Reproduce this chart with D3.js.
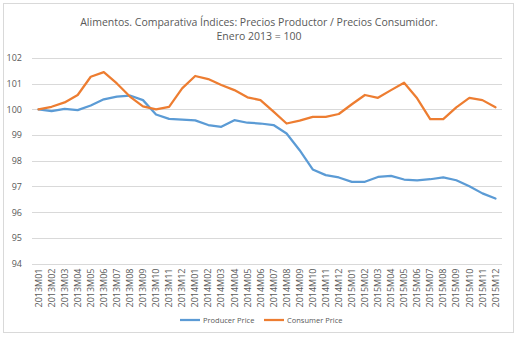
<!DOCTYPE html>
<html>
<head>
<meta charset="utf-8">
<script src="https://cdn.jsdelivr.net/npm/d3@7"></script>
<style>
  body { margin: 0; background: #fff; }
  text { font-family: "Open Sans", "Noto Sans", sans-serif; fill: #595959; }
</style>
</head>
<body>
<script>
const W = 519, H = 339;

const months = [];
['2013', '2014', '2015'].forEach(function(y) {
	['01', '02', '03', '04', '05', '06', '07', '08', '09', '10', '11', '12'].forEach(function(m) {
		months.push(y + 'M' + m);
	});
});

const producer = [100.0, 99.93, 100.02, 99.97, 100.15, 100.39, 100.5, 100.54, 100.36, 99.8, 99.63, 99.6,
	99.57, 99.39, 99.32, 99.58, 99.48, 99.45, 99.39, 99.06, 98.41, 97.66, 97.44, 97.35,
	97.18, 97.18, 97.37, 97.41, 97.27, 97.24, 97.28, 97.35, 97.24, 97.01, 96.73, 96.53];

const consumer = [100.0, 100.1, 100.27, 100.56, 101.27, 101.45, 101.01, 100.5, 100.12, 100.0, 100.1, 100.82,
	101.3, 101.18, 100.95, 100.75, 100.47, 100.36, 99.91, 99.45, 99.56, 99.71, 99.71, 99.82,
	100.2, 100.56, 100.45, 100.75, 101.04, 100.43, 99.62, 99.62, 100.08, 100.45, 100.36, 100.08];

const yTicks = [94, 95, 96, 97, 98, 99, 100, 101, 102];

const margin = { top: 58, left: 32, right: 17, bottom: 75 };
const plotW = W - margin.left - margin.right;
const plotH = 263.5 - margin.top;

const svg = d3.select('body').append('svg').attr('width', W).attr('height', H);

// chart frame
svg.append('rect')
	.attr('x', 3.5).attr('y', 3.5)
	.attr('width', 510).attr('height', 329)
	.attr('fill', '#fff').attr('stroke', '#d9d9d9');

svg.append('text')
	.attr('x', 259).attr('y', 26)
	.attr('text-anchor', 'middle')
	.style('font-size', '10.5px')
	.text('Alimentos. Comparativa Índices: Precios Productor  / Precios Consumidor.');
svg.append('text')
	.attr('x', 259).attr('y', 40)
	.attr('text-anchor', 'middle')
	.style('font-size', '10.5px')
	.text('Enero 2013 = 100');

const g = svg.append('g').attr('transform', 'translate(' + margin.left + ',' + margin.top + ')');

const x = d3.scaleBand().domain(months).range([0, plotW]);
const y = d3.scaleLinear().domain([94, 102]).range([plotH, 0]);

// gridlines
g.selectAll('.grid')
	.data(yTicks)
	.enter()
	.append('line')
	.attr('x1', 0).attr('x2', plotW)
	.attr('y1', function(d) { return Math.round(y(d)) + 0.5; })
	.attr('y2', function(d) { return Math.round(y(d)) + 0.5; })
	.attr('stroke', '#d9d9d9');

const yAxis = d3.axisLeft(y).tickValues(yTicks).tickSize(0).tickPadding(10);
g.append('g').call(yAxis)
	.call(function(s) { s.select('.domain').remove(); })
	.selectAll('text')
	.style('font-size', '9px');

const xAxis = d3.axisBottom(x).tickSize(0).tickPadding(0);
g.append('g')
	.attr('transform', 'translate(0,' + plotH + ')')
	.call(xAxis)
	.call(function(s) { s.select('.domain').remove(); })
	.selectAll('text')
	.style('font-size', '9px')
	.attr('text-anchor', 'end')
	.attr('transform', 'rotate(-90)')
	.attr('x', -5)
	.attr('y', 0)
	.attr('dy', '0.35em');

const line = function(vals) {
	return d3.line()
		.x(function(d, i) { return x(months[i]) + x.bandwidth() / 2; })
		.y(function(d) { return y(d); })(vals);
};

g.append('path').attr('d', line(producer))
	.attr('fill', 'none').attr('stroke', '#5b9bd5').attr('stroke-width', 2.25)
	.attr('stroke-linejoin', 'round').attr('stroke-linecap', 'round');
g.append('path').attr('d', line(consumer))
	.attr('fill', 'none').attr('stroke', '#ed7d31').attr('stroke-width', 2.25)
	.attr('stroke-linejoin', 'round').attr('stroke-linecap', 'round');

// legend
const legend = [
	{ name: 'Producer Price', color: '#5b9bd5', x: 180 },
	{ name: 'Consumer Price', color: '#ed7d31', x: 264 }
];
const lg = svg.selectAll('.leg').data(legend).enter().append('g')
	.attr('transform', function(d) { return 'translate(' + d.x + ',320)'; });
lg.append('line').attr('x1', 0).attr('x2', 20).attr('y1', 0).attr('y2', 0)
	.attr('stroke', function(d) { return d.color; }).attr('stroke-width', 2.25);
lg.append('text').attr('x', 23).attr('y', 0).attr('dy', '0.35em')
	.style('font-size', '7.5px')
	.text(function(d) { return d.name; });
</script>
</body>
</html>
